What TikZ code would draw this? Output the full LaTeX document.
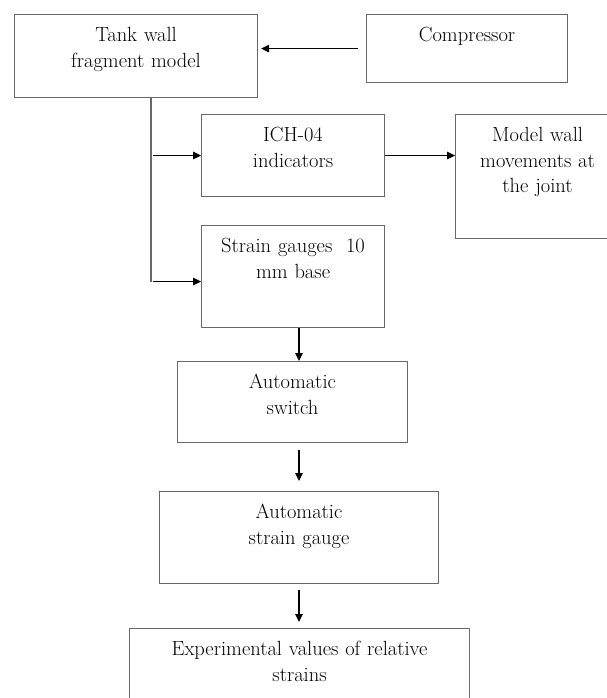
\documentclass[tikz,border=0pt]{standalone}
\usepackage{fontspec}
\usetikzlibrary{arrows.meta}
\definecolor{boxgray}{HTML}{686868}
\begin{document}
\begin{tikzpicture}[
	x=1pt, y=-1pt,
	every node/.style={font=\fontsize{20.5}{25.5}\selectfont, text=black},
	box/.style 2 args={draw=boxgray, line width=1.1pt, rectangle, align=center, anchor=north west,
		inner xsep=0pt, inner ysep=14pt, text height=13pt, text width=#1, text depth=#2},
	arr/.style={-{Triangle[length=8pt,width=7.5pt]}, line width=1.3pt, black}
	]

		\useasboundingbox (0,0) rectangle (606,698);

		% Nodes
		\node[box={243pt}{42pt}] (tank) at (14,14) {Tank wall\\ fragment model};
		\node[box={201pt}{27pt}] (comp) at (366,14) {Compressor};
		\node[box={183pt}{41pt}] (ich) at (201,114) {ICH-04\\ indicators};
		\node[box={164pt}{83pt}] (model) at (455,114) {Model wall\\ movements at\\ the joint};
		\node[box={183pt}{61pt}] (strain) at (201,225) {Strain gauges~ 10\\ mm base};
		\node[box={230pt}{40pt}] (switch) at (177,361) {Automatic\\ switch};
		\node[box={279pt}{51pt}] (gauge) at (159,491) {Automatic\\ strain gauge};
		\node[box={340pt}{59pt}] (exp) at (129,628) {Experimental values of relative\\ strains};

		\coordinate (trunk) at (151,98);
		\coordinate (spine) at (299,0);

		% Connectors
		\draw[arr] ([xshift=-8pt]comp.west) -- ([xshift=3pt]comp.west -| tank.east);
		\draw[boxgray, line width=1.1pt] (trunk) -- ++(0,184) coordinate (trunkend);
		\draw[arr] ([xshift=2pt]trunk |- ich.west) -- (ich.west);
		\draw[arr] ([shift={(2,5)}]trunk |- strain.west) -- ([yshift=-5pt]strain.west);
		\draw[arr] (ich.east) -- (ich.east -| model.west);
		\draw[arr] (spine |- strain.south) -- (spine |- switch.north);
		\draw[arr] ([yshift=-7pt]spine |- switch.south) -- ([yshift=10pt]spine |- gauge.north);
		\draw[arr] ([yshift=-6pt]spine |- gauge.south) -- ([yshift=6pt]spine |- exp.north);
	\end{tikzpicture}
\end{document}
